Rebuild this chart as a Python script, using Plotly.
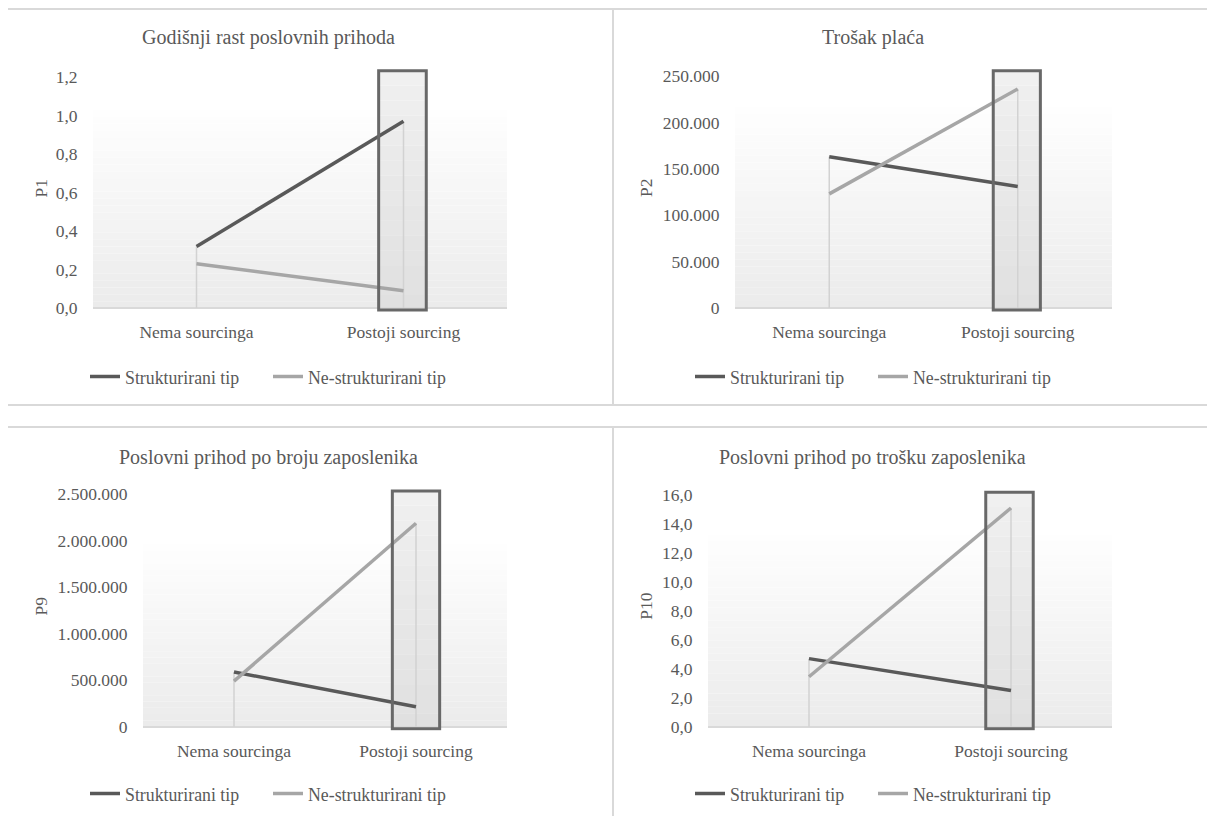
import plotly.graph_objects as go

# ---------------- data ----------------
categories = ["Nema sourcinga", "Postoji sourcing"]
series_names = ["Strukturirani tip", "Ne-strukturirani tip"]

titles = ["Godišnji rast poslovnih prihoda", "Trošak plaća",
          "Poslovni prihod po broju zaposlenika", "Poslovni prihod po trošku zaposlenika"]
y_titles = ["P1", "P2", "P9", "P10"]

p1_strukturirani = [0.32, 0.97]
p1_nestrukturirani = [0.23, 0.09]
p2_strukturirani = [163000, 131000]
p2_nestrukturirani = [123000, 236000]
p9_strukturirani = [589000, 214000]
p9_nestrukturirani = [490000, 2188000]
p10_strukturirani = [4.7, 2.5]
p10_nestrukturirani = [3.45, 15.1]

y_dticks = [0.2, 50000, 500000, 2.0]
y_top_ticks = [1.2, 250000, 2500000, 16.0]
y_formats = [".1f", ",.0f", ",.0f", ".1f"]

# ---------------- layout geometry (screen pixels) ----------------
OFF = 8                      # page body margin
W, H = 1215 - OFF, 816 - OFF
FONT = "Liberation Serif, Times New Roman, serif"
TXT = "#595959"
DARK = "#595959"
LIGHT = "#a6a6a6"
BORDER = "#d9d9d9"


def px(x):
    return (x - OFF) / W


def py(y):
    return 1 - (y - OFF) / H


geo = [
    dict(l=93, r=507, base=308, ttick=77, gtop=103, rx=(0.88, 1.11), rtop=70.7, cx=268, ty=37, ly=377, ytx=40),
    dict(l=735, r=1112, base=308, ttick=76, gtop=100, rx=(0.87, 1.12), rtop=70.7, cx=873, ty=37, ly=377, ytx=646),
    dict(l=143, r=507, base=726.7, ttick=494.3, gtop=538, rx=(0.87, 1.13), rtop=491, cx=268, ty=457, ly=794, ytx=40),
    dict(l=708, r=1112, base=726.7, ttick=495, gtop=528, rx=(0.875, 1.11), rtop=492.3, cx=873, ty=457, ly=794, ytx=646),
]

series = [
    (p1_strukturirani, p1_nestrukturirani),
    (p2_strukturirani, p2_nestrukturirani),
    (p9_strukturirani, p9_nestrukturirani),
    (p10_strukturirani, p10_nestrukturirani),
]

fig = go.Figure()
shapes = []
annotations = []
layout_axes = {}
legends = {}

for i, (g, (s_a, s_b)) in enumerate(zip(geo, series)):
    n = "" if i == 0 else str(i + 1)
    xa, ya = "x" + n, "y" + n
    leg = "legend" + n

    pxper = (g["base"] - g["ttick"]) / y_top_ticks[i]
    dom_top = g["ttick"] - 14
    dom_bot = g["base"] + 4
    y_lo = -(dom_bot - g["base"]) / pxper
    y_hi = (g["base"] - dom_top) / pxper

    # gradient plot background
    nstrips = 30
    gtop_val = (g["base"] - g["gtop"]) / pxper
    for k in range(nstrips):
        t = (k + 0.5) / nstrips  # 0 at bottom, 1 at top
        c = int(round(235 + (255 - 235) * t))
        shapes.append(dict(type="rect", xref=xa + " domain", yref=ya,
                           x0=0, x1=1, y0=gtop_val * k / nstrips, y1=gtop_val * (k + 1) / nstrips,
                           fillcolor=f"rgb({c},{c},{c})", line=dict(width=0), layer="below"))

    # highlight rectangle fill (gradient) below the lines
    rtop_val = (g["base"] - g["rtop"]) / pxper
    rbot_val = -2 / pxper
    nr = 16
    for k in range(nr):
        t = (k + 0.5) / nr
        c = int(round(224 + (240 - 224) * t))
        shapes.append(dict(type="rect", xref=xa, yref=ya, x0=g["rx"][0], x1=g["rx"][1],
                           y0=rbot_val + (rtop_val - rbot_val) * k / nr,
                           y1=rbot_val + (rtop_val - rbot_val) * (k + 1) / nr,
                           fillcolor=f"rgb({c},{c},{c})", line=dict(width=0), layer="below"))
    shapes.append(dict(type="rect", xref=xa, yref=ya, x0=g["rx"][0], x1=g["rx"][1],
                       y0=rbot_val, y1=rtop_val, fillcolor="rgba(0,0,0,0)",
                       line=dict(color="#686868", width=3), layer="above"))

    # drop lines
    dx, dy = [], []
    for c_, a, b in zip(categories, s_a, s_b):
        dx += [c_, c_, None]
        dy += [0, max(a, b), None]
    fig.add_trace(go.Scatter(x=dx, y=dy, mode="lines", line=dict(color="#d2d2d2", width=1.5),
                             showlegend=False, hoverinfo="skip", xaxis=xa, yaxis=ya))

    fig.add_trace(go.Scatter(x=categories, y=s_a, mode="lines", name=series_names[0],
                             line=dict(color=DARK, width=3.5), xaxis=xa, yaxis=ya, legend=leg))
    fig.add_trace(go.Scatter(x=categories, y=s_b, mode="lines", name=series_names[1],
                             line=dict(color=LIGHT, width=3.5), xaxis=xa, yaxis=ya, legend=leg))

    layout_axes["xaxis" + n] = dict(
        domain=[px(g["l"]), px(g["r"])], anchor=ya, type="category",
        categoryorder="array", categoryarray=categories, range=[-0.5, 1.5],
        showgrid=False, zeroline=False, showline=False,
        ticks="outside", ticklen=4, tickcolor="rgba(0,0,0,0)",
        tickfont=dict(family=FONT, size=17.5, color=TXT), fixedrange=True)
    layout_axes["yaxis" + n] = dict(
        domain=[py(dom_bot), py(dom_top)], anchor=xa, range=[y_lo, y_hi],
        tick0=0, dtick=y_dticks[i], tickformat=y_formats[i],
        showgrid=False, zeroline=True, zerolinecolor="#d9d9d9", zerolinewidth=1.5,
        showline=False, ticks="outside", ticklen=11, tickcolor="rgba(0,0,0,0)",
        tickfont=dict(family=FONT, size=17.5, color=TXT), fixedrange=True)

    legends[leg] = dict(orientation="h", x=px(g["cx"]), xanchor="center",
                        y=py(g["ly"]), yanchor="middle", bgcolor="rgba(0,0,0,0)",
                        font=dict(family=FONT, size=17.8, color=TXT),
                        itemwidth=30, tracegroupgap=0,
                        entrywidth=138, entrywidthmode="pixels")

    annotations.append(dict(text=titles[i], x=px(g["cx"]), y=py(g["ty"]), xref="paper", yref="paper",
                            xanchor="center", yanchor="middle", showarrow=False,
                            font=dict(family=FONT, size=20, color=TXT)))
    annotations.append(dict(text=y_titles[i], x=px(g["ytx"]), y=py((dom_top + g["base"]) / 2 + 3),
                            xref="paper", yref="paper", xanchor="center", yanchor="middle",
                            textangle=-90, showarrow=False,
                            font=dict(family=FONT, size=17.5, color=TXT)))

# panel borders
bw = 2
for y0, y1 in [(9, 405), (427, 830)]:
    shapes.append(dict(type="line", xref="paper", yref="paper", x0=px(7), x1=px(1230), y0=py(y0), y1=py(y0),
                       line=dict(color=BORDER, width=bw), layer="above"))
    for xv in (7, 613):
        shapes.append(dict(type="line", xref="paper", yref="paper", x0=px(xv), x1=px(xv), y0=py(y0), y1=py(y1),
                           line=dict(color=BORDER, width=bw), layer="above"))
shapes.append(dict(type="line", xref="paper", yref="paper", x0=px(7), x1=px(1230), y0=py(405), y1=py(405),
                   line=dict(color=BORDER, width=bw), layer="above"))

fig.update_layout(
    width=W, height=H, margin=dict(l=0, r=0, t=0, b=0, autoexpand=False),
    paper_bgcolor="white", plot_bgcolor="white",
    separators=",.", shapes=shapes, annotations=annotations,
    font=dict(family=FONT, color=TXT), hovermode=False,
    **layout_axes, **legends,
)

fig.write_html("out.html")
